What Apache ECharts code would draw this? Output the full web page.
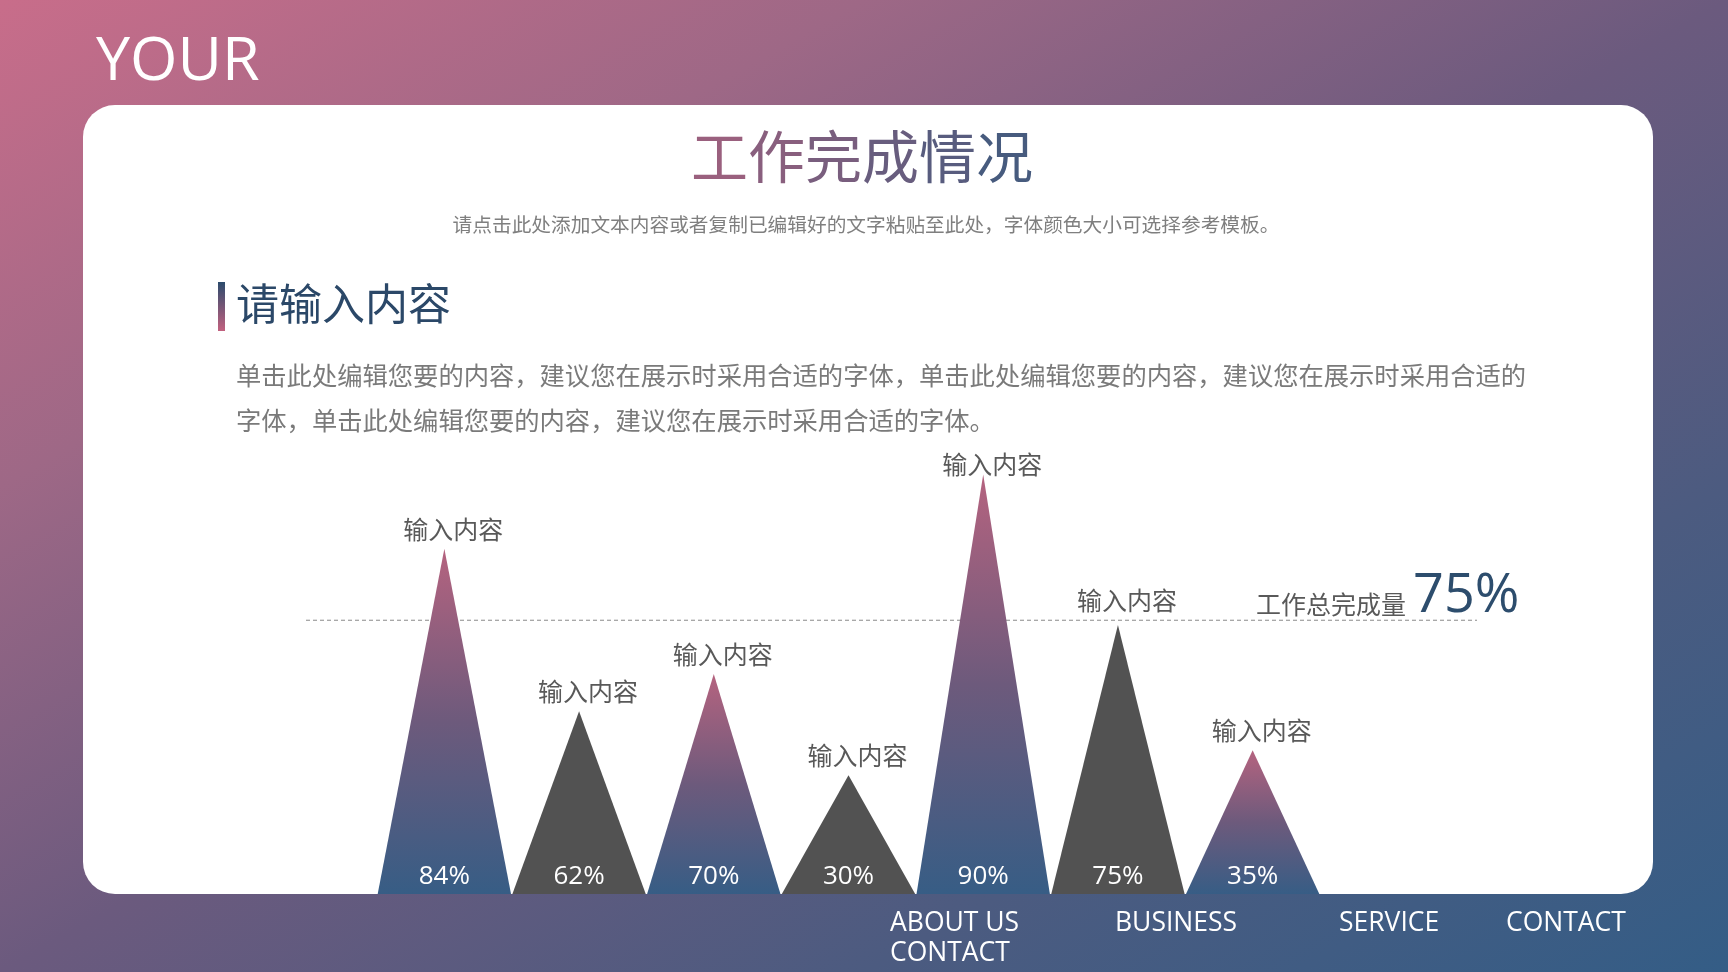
<!DOCTYPE html>
<html>
<head>
<meta charset="utf-8">
<script src="https://cdn.jsdelivr.net/npm/echarts@6/dist/echarts.min.js"></script>
<style>
  html, body { margin: 0; padding: 0; width: 1728px; height: 972px; overflow: hidden; }
  #main { width: 1728px; height: 972px; }
</style>
</head>
<body>
<div id="main"></div>
<script>
// ---- data ----
const categories = ['输入内容', '输入内容', '输入内容', '输入内容', '输入内容', '输入内容', '输入内容'];
const completion = [84, 62, 70, 30, 90, 75, 35];          // labels shown in each peak (%)
const peakHeights = [74.4, 39.4, 47.4, 25.6, 90.4, 58, 31]; // drawn peak heights (0-100 scale)
const totalLevel = 59;                                      // dashed "total" line height on same scale
const totalLabel = '工作总完成量';
const totalValue = '75%';
const navItems = ['ABOUT US\nCONTACT', 'BUSINESS', 'SERVICE', 'CONTACT'];
const titleText = '工作完成情况';
const subtitleText = '请点击此处添加文本内容或者复制已编辑好的文字粘贴至此处，字体颜色大小可选择参考模板。';
const headingText = '请输入内容';
const bodyText = '单击此处编辑您要的内容，建议您在展示时采用合适的字体，单击此处编辑您要的内容，建议您在展示时采用合适的\n字体，单击此处编辑您要的内容，建议您在展示时采用合适的字体。';

// ---- chart ----
const chart = echarts.init(document.getElementById('main'), null, { renderer: 'canvas' });
const CJK = '"Noto Sans CJK SC", "Open Sans", sans-serif';
const LAT = '"Open Sans", "Noto Sans", sans-serif';
const LG = echarts.graphic.LinearGradient;

const peakGradient = () => new LG(0, 0, 0, 1, [
  { offset: 0, color: '#b5637f' },
  { offset: 0.5, color: '#6d5a7c' },
  { offset: 1, color: '#375d85' }
]);

const bg = {
  type: 'linear', global: true, x: 449, y: -252, x2: 1279, y2: 1224,
  colorStops: [
    { offset: 0, color: '#c86d8a' },
    { offset: 0.25, color: '#9e6886' },
    { offset: 0.5, color: '#6b5a7e' },
    { offset: 0.75, color: '#4c5b80' },
    { offset: 1, color: '#345d86' }
  ]
};

// title: per-character colour steps from pink to blue (gradient look)
function mix(a, b, t) {
  const pa = [1, 3, 5].map(k => parseInt(a.substr(k, 2), 16));
  const pb = [1, 3, 5].map(k => parseInt(b.substr(k, 2), 16));
  return 'rgb(' + pa.map((v, i) => Math.round(v + (pb[i] - v) * t)).join(',') + ')';
}
const titleChars = Array.from(titleText);
const titleRich = {};
titleChars.forEach((c, i) => {
  titleRich['c' + i] = { fill: mix('#a2607e', '#3f5a7e', (i + 0.5) / titleChars.length),
    font: '400 57px ' + CJK };
});
const titleRichText = titleChars.map((c, i) => '{c' + i + '|' + c + '}').join('');

const graphics = [
  { type: 'rect', z: -20, silent: true, shape: { x: 0, y: 0, width: 1728, height: 972 }, style: { fill: bg } },
  { type: 'rect', z: -10, silent: true, shape: { x: 83, y: 105, width: 1570, height: 789, r: 32 }, style: { fill: '#ffffff' } },
  { type: 'text', z: 10, style: { text: 'YOUR', x: 96, y: 63, fill: '#ffffff', font: '400 61px ' + LAT, verticalAlign: 'middle' } },
  { type: 'text', z: 10, style: { text: titleRichText, rich: titleRich, x: 862, y: 156, align: 'center', verticalAlign: 'middle',
      font: '400 57px ' + CJK } },
  { type: 'text', z: 10, style: { text: subtitleText, x: 866, y: 225, align: 'center', verticalAlign: 'middle',
      font: '400 19.7px ' + CJK, fill: '#7f7f7f' } },
  { type: 'rect', z: 10, shape: { x: 218, y: 282, width: 7, height: 49 },
    style: { fill: new LG(0, 0, 0, 1, [{ offset: 0, color: '#2c4b6c' }, { offset: 1, color: '#c2617f' }]) } },
  { type: 'text', z: 10, style: { text: headingText, x: 236, y: 304, verticalAlign: 'middle',
      font: '400 43px ' + CJK, fill: '#2b4868' } },
  { type: 'text', z: 10, style: { text: bodyText, x: 236, y: 398, verticalAlign: 'middle', lineHeight: 45,
      font: '400 25.3px ' + CJK, fill: '#7a7a7a' } },
  { type: 'text', z: 10, style: { text: totalLabel, x: 1256, y: 604, verticalAlign: 'middle',
      font: '400 25px ' + CJK, fill: '#595959' } },
  { type: 'text', z: 10, style: { text: totalValue, x: 1413, y: 597, verticalAlign: 'middle',
      font: '400 54px ' + LAT, fill: '#2d4d6d' } }
];
const navX = [890, 1115, 1339, 1506];
navItems.forEach((t, i) => {
  graphics.push({ type: 'text', z: 10, style: { text: t, x: navX[i], y: 923 - 15, verticalAlign: 'top', lineHeight: 30,
    font: '400 26.5px ' + LAT, fill: '#ffffff' } });
});

// small per-peak label nudges (style only)
const labelNudgeY = { 4: 9, 5: -5 };

const option = {
  animation: false,
  graphic: { elements: graphics },
  grid: [
    { left: 377, right: 408, top: 430, bottom: 78 },
    { left: 306, right: 251, top: 430, bottom: 78 }
  ],
  xAxis: [
    { type: 'category', gridIndex: 0, data: categories, show: false },
    { type: 'value', gridIndex: 1, min: 0, max: 1, show: false }
  ],
  yAxis: [
    { type: 'value', gridIndex: 0, min: 0, max: 100, show: false },
    { type: 'value', gridIndex: 1, min: 0, max: 100, show: false }
  ],
  series: [
    {
      type: 'line', xAxisIndex: 1, yAxisIndex: 1, z: 1, silent: true,
      data: [[0, totalLevel], [1, totalLevel]], symbol: 'none',
      lineStyle: { color: '#8a8a8a', width: 1, type: [4, 3] }
    },
    {
      type: 'pictorialBar', xAxisIndex: 0, yAxisIndex: 0, z: 3, silent: true,
      symbol: 'triangle', symbolSize: ['100%', '100%'], barWidth: '99%',
      data: peakHeights.map((v, i) => ({
        value: v,
        itemStyle: { color: i % 2 === 0 ? peakGradient() : '#525252' },
        label: { offset: [9, labelNudgeY[i] || 0] }
      })),
      label: { show: true, position: 'top', distance: 7, formatter: '{b}',
        fontFamily: CJK, fontSize: 25, color: '#595959' }
    },
    {
      type: 'bar', xAxisIndex: 0, yAxisIndex: 0, z: 5, silent: true,
      barWidth: '99%', data: peakHeights,
      itemStyle: { color: 'rgba(0,0,0,0)' },
      label: { show: true, position: 'insideBottom', distance: 4,
        formatter: p => completion[p.dataIndex] + '%',
        fontFamily: LAT, fontSize: 26, color: '#ffffff' }
    }
  ]
};
chart.setOption(option);
</script>
</body>
</html>
